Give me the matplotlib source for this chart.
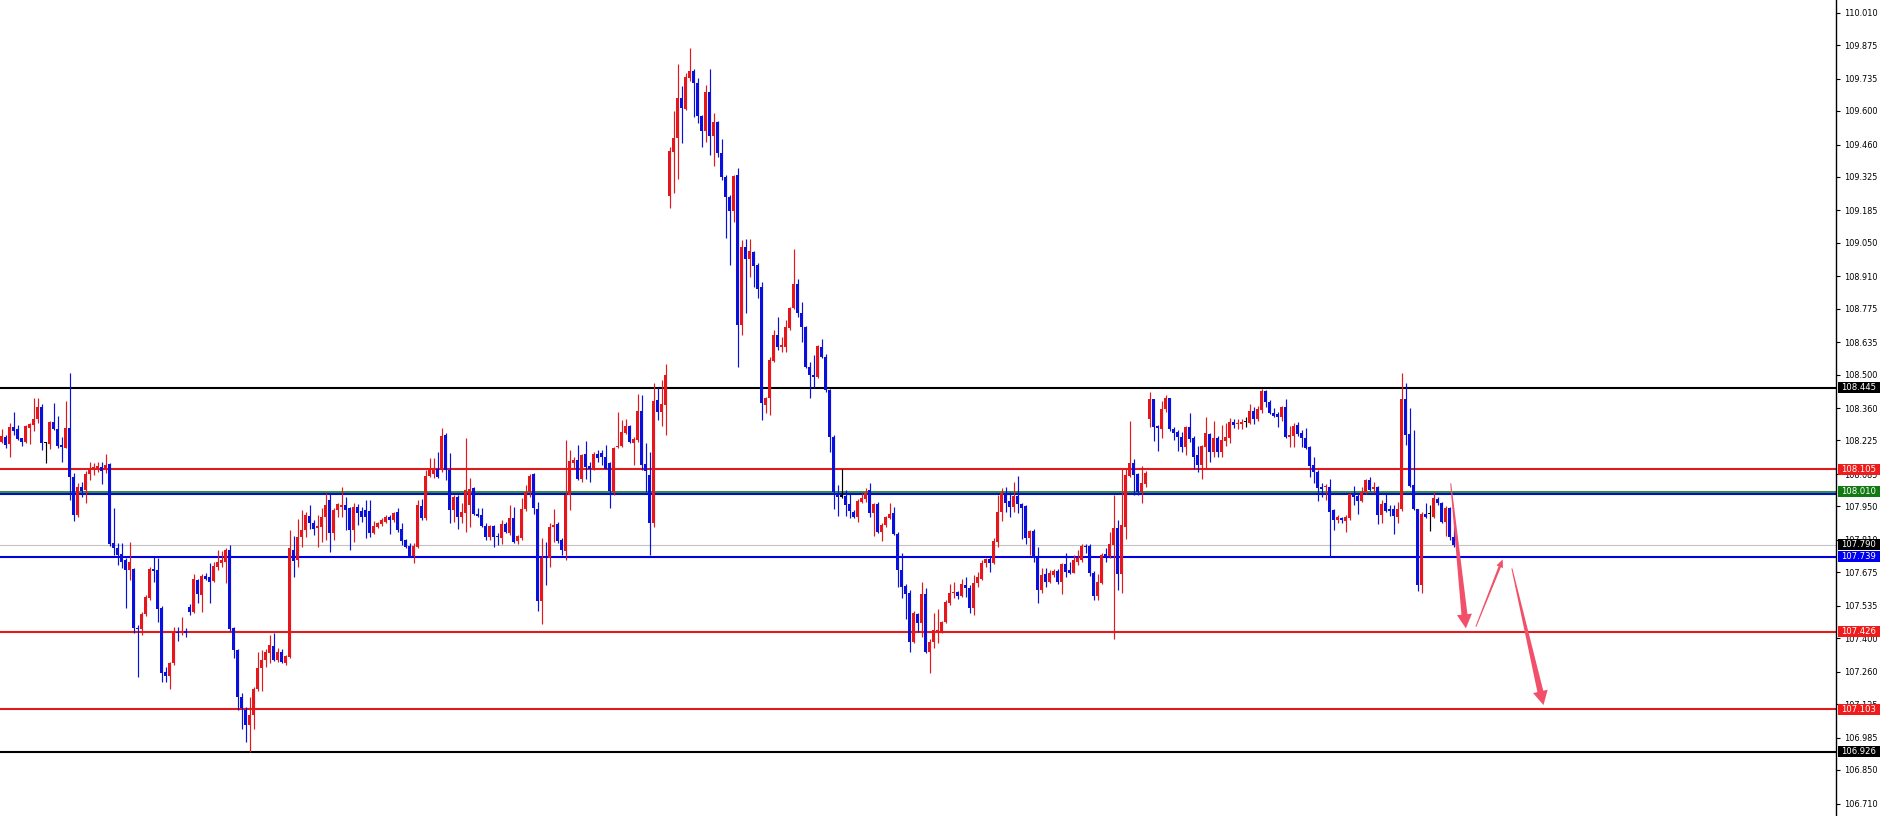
import numpy as np
import matplotlib
matplotlib.use("Agg")
import matplotlib.pyplot as plt
from matplotlib.patches import Polygon, Rectangle
from matplotlib.transforms import IdentityTransform

# candle data (one candle every 4 px)
opens = [
108.220, 108.241, 108.209, 108.283, 108.273, 108.234, 108.220, 108.276, 108.290, 108.315,
108.366, 108.216, 108.210, 108.302, 108.273, 108.206, 108.195, 108.276, 108.071, 107.914,
108.030, 108.018, 108.085, 108.102, 108.102, 108.116, 108.102, 108.126, 107.799, 107.775,
107.750, 107.726, 107.685, 107.687, 107.444, 107.437, 107.501, 107.566, 107.687, 107.685,
107.525, 107.259, 107.242, 107.295, 107.427, 107.420, 107.430, 107.531, 107.510, 107.643,
107.580, 107.661, 107.656, 107.640, 107.698, 107.712, 107.719, 107.770, 107.441, 107.350,
107.156, 107.100, 107.037, 107.079, 107.186, 107.274, 107.311, 107.339, 107.367, 107.309,
107.343, 107.298, 107.323, 107.770, 107.726, 107.821, 107.851, 107.911, 107.882, 107.858,
107.862, 107.904, 107.976, 107.838, 107.935, 107.949, 107.956, 107.942, 107.851, 107.946,
107.932, 107.935, 107.931, 107.838, 107.865, 107.875, 107.886, 107.904, 107.893, 107.928,
107.854, 107.810, 107.786, 107.743, 107.782, 107.952, 107.900, 108.077, 108.085, 108.105,
108.105, 108.248, 108.102, 107.935, 107.988, 107.907, 107.924, 107.956, 108.025, 107.918,
107.914, 107.868, 107.821, 107.868, 107.826, 107.820, 107.876, 107.840, 107.900, 107.806,
107.816, 107.937, 108.011, 108.085, 107.941, 107.556, 107.740, 107.733, 107.862, 107.876,
107.809, 107.765, 107.997, 108.132, 108.143, 108.066, 108.167, 108.118, 108.108, 108.168,
108.171, 108.157, 108.129, 108.011, 108.196, 108.201, 108.257, 108.285, 108.215, 108.226,
108.349, 108.126, 108.080, 107.881, 108.393, 108.345, 108.372, 109.246, 109.430, 109.486,
109.653, 109.607, 109.739, 109.768, 109.718, 109.579, 109.518, 109.680, 109.497, 109.555,
109.423, 109.326, 109.242, 109.184, 109.333, 108.707, 109.034, 108.981, 109.013, 108.957,
108.864, 108.373, 108.401, 108.558, 108.665, 108.616, 108.616, 108.693, 108.776, 108.876,
108.755, 108.700, 108.533, 108.498, 108.491, 108.616, 108.572, 108.435, 108.238, 108.001,
107.991, 107.993, 107.960, 107.928, 107.907, 107.969, 107.979, 108.018, 107.923, 107.960,
107.844, 107.872, 107.900, 107.923, 107.834, 107.684, 107.617, 107.587, 107.385, 107.501,
107.462, 107.584, 107.343, 107.385, 107.420, 107.427, 107.469, 107.548, 107.587, 107.594,
107.576, 107.622, 107.608, 107.524, 107.629, 107.649, 107.712, 107.729, 107.715, 107.802,
107.928, 108.004, 107.973, 107.948, 107.993, 107.960, 107.951, 107.816, 107.848, 107.733,
107.601, 107.667, 107.635, 107.663, 107.681, 107.635, 107.709, 107.684, 107.673, 107.719,
107.726, 107.786, 107.784, 107.673, 107.576, 107.631, 107.750, 107.743, 107.788, 107.858,
107.667, 107.865, 108.076, 108.132, 108.085, 108.011, 108.043, 108.313, 108.396, 108.285,
108.271, 108.355, 108.401, 108.271, 108.262, 108.241, 108.199, 108.280, 108.234, 108.164,
108.123, 108.199, 108.252, 108.178, 108.234, 108.178, 108.224, 108.234, 108.303, 108.292,
108.294, 108.300, 108.299, 108.349, 108.313, 108.352, 108.433, 108.387, 108.341, 108.335,
108.324, 108.363, 108.241, 108.244, 108.289, 108.257, 108.234, 108.199, 108.123, 108.095,
108.029, 108.029, 108.032, 107.934, 107.893, 107.900, 107.890, 107.900, 108.004, 107.993,
107.973, 108.011, 108.060, 108.021, 108.032, 107.913, 107.962, 107.941, 107.937, 107.907,
107.937, 108.396, 108.251, 108.039, 107.937, 107.621, 107.918, 107.917, 107.907, 107.979,
107.965, 107.886, 107.945, 107.823,
]

highs = [
108.272, 108.248, 108.299, 108.343, 108.290, 108.237, 108.290, 108.297, 108.401, 108.404,
108.376, 108.220, 108.308, 108.383, 108.327, 108.241, 108.391, 108.508, 108.088, 108.046,
108.053, 108.098, 108.134, 108.130, 108.137, 108.137, 108.167, 108.130, 107.945, 107.799,
107.799, 107.733, 107.800, 107.692, 107.455, 107.511, 107.580, 107.699, 107.740, 107.733,
107.534, 107.281, 107.302, 107.448, 107.448, 107.490, 107.441, 107.542, 107.668, 107.649,
107.668, 107.670, 107.715, 107.719, 107.768, 107.764, 107.775, 107.789, 107.448, 107.353,
107.170, 107.114, 107.156, 107.195, 107.343, 107.350, 107.353, 107.413, 107.423, 107.357,
107.353, 107.330, 107.851, 107.826, 107.896, 107.935, 107.928, 107.955, 107.893, 107.914,
107.942, 108.004, 108.004, 107.942, 107.963, 108.030, 107.991, 107.949, 107.963, 107.960,
107.949, 107.977, 107.977, 107.890, 107.886, 107.900, 107.914, 107.914, 107.928, 107.942,
107.879, 107.813, 107.799, 107.796, 107.977, 107.979, 108.102, 108.151, 108.151, 108.178,
108.276, 108.255, 108.171, 107.998, 107.998, 107.963, 108.234, 108.067, 108.032, 107.942,
107.942, 107.879, 107.872, 107.872, 107.840, 107.895, 107.886, 107.955, 107.948, 107.830,
107.983, 108.039, 108.085, 108.090, 107.969, 107.820, 107.802, 107.879, 107.941, 107.886,
107.816, 108.229, 108.185, 108.157, 108.206, 108.167, 108.224, 108.136, 108.178, 108.185,
108.187, 108.206, 108.136, 108.199, 108.345, 108.310, 108.313, 108.289, 108.240, 108.421,
108.414, 108.213, 108.178, 108.463, 108.449, 108.477, 108.544, 109.451, 109.600, 109.796,
109.704, 109.757, 109.861, 109.774, 109.736, 109.583, 109.708, 109.774, 109.593, 109.559,
109.481, 109.333, 109.249, 109.333, 109.360, 109.061, 109.064, 109.064, 109.017, 108.964,
108.888, 108.408, 108.575, 108.686, 108.739, 108.658, 108.728, 108.783, 109.022, 108.897,
108.804, 108.703, 108.554, 108.581, 108.623, 108.647, 108.586, 108.440, 108.247, 108.039,
108.104, 108.018, 108.001, 107.935, 107.979, 108.004, 108.025, 108.049, 107.965, 107.969,
107.882, 107.909, 107.962, 107.946, 107.844, 107.754, 107.626, 107.601, 107.514, 107.506,
107.635, 107.608, 107.395, 107.503, 107.520, 107.473, 107.559, 107.626, 107.635, 107.598,
107.645, 107.654, 107.622, 107.663, 107.677, 107.726, 107.733, 107.740, 107.816, 107.997,
108.025, 108.029, 108.011, 108.053, 108.076, 107.965, 107.955, 107.851, 107.854, 107.782,
107.691, 107.691, 107.684, 107.687, 107.687, 107.715, 107.754, 107.719, 107.747, 107.770,
107.795, 107.795, 107.795, 107.681, 107.667, 107.754, 107.775, 107.844, 107.997, 107.893,
108.104, 108.108, 108.307, 108.146, 108.090, 108.118, 108.099, 108.428, 108.400, 108.289,
108.391, 108.415, 108.401, 108.280, 108.269, 108.262, 108.285, 108.341, 108.244, 108.202,
108.206, 108.324, 108.255, 108.308, 108.244, 108.289, 108.296, 108.317, 108.313, 108.313,
108.313, 108.324, 108.377, 108.363, 108.369, 108.438, 108.436, 108.394, 108.359, 108.345,
108.369, 108.397, 108.285, 108.299, 108.303, 108.269, 108.276, 108.202, 108.155, 108.102,
108.046, 108.043, 108.066, 107.937, 107.913, 107.904, 107.913, 108.004, 108.035, 108.001,
108.032, 108.066, 108.071, 108.053, 108.035, 107.976, 108.001, 107.955, 107.955, 107.969,
108.507, 108.463, 108.359, 108.268, 107.941, 107.927, 107.962, 107.955, 108.011, 107.990,
107.969, 107.951, 107.948, 107.865,
]

lows = [
108.213, 108.192, 108.155, 108.248, 108.227, 108.203, 108.216, 108.210, 108.265, 108.297,
108.185, 108.133, 108.188, 108.269, 108.195, 108.137, 108.192, 107.977, 107.891, 107.904,
107.991, 107.966, 108.060, 108.081, 108.095, 108.044, 108.088, 107.785, 107.747, 107.706,
107.692, 107.525, 107.643, 107.420, 107.240, 107.413, 107.493, 107.559, 107.636, 107.469,
107.219, 107.219, 107.186, 107.288, 107.389, 107.413, 107.403, 107.496, 107.503, 107.545,
107.510, 107.643, 107.548, 107.636, 107.684, 107.698, 107.631, 107.431, 107.316, 107.100,
107.019, 106.968, 106.926, 107.019, 107.181, 107.181, 107.281, 107.295, 107.306, 107.302,
107.295, 107.288, 107.316, 107.654, 107.695, 107.782, 107.821, 107.854, 107.830, 107.782,
107.802, 107.809, 107.761, 107.810, 107.907, 107.907, 107.851, 107.768, 107.803, 107.872,
107.886, 107.817, 107.824, 107.835, 107.858, 107.868, 107.879, 107.835, 107.886, 107.844,
107.789, 107.775, 107.740, 107.715, 107.775, 107.893, 107.893, 108.074, 108.067, 108.067,
108.095, 108.060, 107.879, 107.886, 107.854, 107.879, 107.844, 107.865, 107.914, 107.907,
107.865, 107.810, 107.810, 107.782, 107.789, 107.795, 107.837, 107.830, 107.798, 107.795,
107.809, 107.932, 107.990, 107.920, 107.514, 107.461, 107.621, 107.698, 107.802, 107.798,
107.747, 107.728, 107.934, 108.108, 108.062, 108.053, 108.066, 108.053, 108.101, 108.136,
108.122, 108.104, 107.945, 107.997, 108.192, 108.199, 108.254, 108.215, 108.122, 108.219,
108.101, 108.011, 107.747, 107.862, 108.310, 108.285, 108.247, 109.194, 109.256, 109.315,
109.465, 109.604, 109.726, 109.576, 109.548, 109.448, 109.472, 109.416, 109.370, 109.406,
109.312, 109.068, 108.957, 109.138, 108.530, 108.665, 108.758, 108.908, 108.867, 108.818,
108.310, 108.338, 108.331, 108.554, 108.602, 108.595, 108.595, 108.686, 108.772, 108.741,
108.637, 108.526, 108.401, 108.442, 108.484, 108.568, 108.428, 108.178, 107.941, 107.909,
107.983, 107.909, 107.900, 107.900, 107.886, 107.962, 107.969, 107.904, 107.826, 107.840,
107.807, 107.865, 107.896, 107.830, 107.615, 107.566, 107.478, 107.343, 107.381, 107.427,
107.406, 107.339, 107.256, 107.357, 107.378, 107.420, 107.462, 107.538, 107.566, 107.562,
107.573, 107.573, 107.503, 107.496, 107.615, 107.642, 107.698, 107.677, 107.709, 107.781,
107.890, 107.928, 107.904, 107.928, 107.921, 107.812, 107.795, 107.747, 107.719, 107.545,
107.587, 107.612, 107.631, 107.656, 107.628, 107.584, 107.656, 107.667, 107.670, 107.705,
107.719, 107.754, 107.659, 107.559, 107.559, 107.626, 107.719, 107.733, 107.395, 107.601,
107.590, 107.812, 108.071, 107.997, 107.997, 107.962, 108.032, 108.282, 108.224, 108.182,
108.234, 108.345, 108.266, 108.227, 108.182, 108.178, 108.164, 108.220, 108.104, 108.095,
108.063, 108.104, 108.136, 108.157, 108.155, 108.157, 108.202, 108.216, 108.276, 108.271,
108.271, 108.280, 108.294, 108.294, 108.308, 108.338, 108.363, 108.335, 108.321, 108.283,
108.308, 108.234, 108.196, 108.199, 108.244, 108.196, 108.188, 108.071, 108.049, 107.974,
107.990, 107.976, 107.740, 107.851, 107.879, 107.881, 107.844, 107.893, 107.955, 107.920,
107.969, 108.001, 108.015, 108.004, 107.876, 107.879, 107.927, 107.909, 107.834, 107.881,
107.932, 108.206, 108.032, 107.934, 107.598, 107.589, 107.900, 107.848, 107.900, 107.955,
107.881, 107.826, 107.809, 107.781,
]

closes = [
108.244, 108.206, 108.283, 108.266, 108.231, 108.220, 108.286, 108.294, 108.313, 108.366,
108.213, 108.216, 108.304, 108.274, 108.202, 108.199, 108.276, 108.071, 107.914, 108.032,
108.016, 108.084, 108.109, 108.113, 108.119, 108.099, 108.123, 107.793, 107.775, 107.747,
107.719, 107.685, 107.719, 107.441, 107.437, 107.501, 107.571, 107.689, 107.682, 107.521,
107.256, 107.242, 107.298, 107.427, 107.420, 107.427, 107.420, 107.510, 107.649, 107.583,
107.661, 107.649, 107.636, 107.701, 107.719, 107.726, 107.770, 107.437, 107.350, 107.156,
107.107, 107.037, 107.079, 107.186, 107.274, 107.311, 107.343, 107.371, 107.309, 107.343,
107.302, 107.325, 107.775, 107.723, 107.821, 107.851, 107.914, 107.879, 107.854, 107.868,
107.904, 107.955, 107.837, 107.935, 107.959, 107.956, 107.935, 107.851, 107.949, 107.924,
107.907, 107.907, 107.838, 107.868, 107.882, 107.893, 107.904, 107.893, 107.921, 107.851,
107.807, 107.782, 107.743, 107.785, 107.956, 107.900, 108.077, 108.105, 108.105, 108.074,
108.244, 108.102, 107.935, 107.988, 107.907, 107.928, 108.018, 108.021, 107.918, 107.910,
107.868, 107.821, 107.868, 107.824, 107.821, 107.876, 107.844, 107.900, 107.802, 107.826,
107.937, 108.011, 108.076, 107.945, 107.556, 107.733, 107.733, 107.865, 107.872, 107.806,
107.767, 107.997, 108.139, 108.143, 108.066, 108.164, 108.115, 108.104, 108.168, 108.150,
108.154, 108.108, 108.015, 108.192, 108.201, 108.261, 108.285, 108.219, 108.233, 108.349,
108.122, 108.098, 107.879, 108.391, 108.345, 108.377, 108.498, 109.433, 109.488, 109.653,
109.611, 109.743, 109.767, 109.718, 109.579, 109.518, 109.680, 109.497, 109.555, 109.423,
109.323, 109.242, 109.184, 109.328, 108.707, 109.034, 108.981, 109.017, 108.953, 108.855,
108.380, 108.401, 108.561, 108.665, 108.616, 108.623, 108.697, 108.776, 108.876, 108.755,
108.700, 108.533, 108.498, 108.491, 108.619, 108.572, 108.435, 108.238, 108.011, 107.990,
107.991, 107.955, 107.932, 107.907, 107.973, 107.983, 108.004, 107.923, 107.960, 107.844,
107.872, 107.904, 107.918, 107.834, 107.684, 107.615, 107.584, 107.385, 107.503, 107.462,
107.584, 107.343, 107.385, 107.434, 107.434, 107.469, 107.552, 107.587, 107.594, 107.576,
107.626, 107.608, 107.524, 107.629, 107.656, 107.715, 107.729, 107.715, 107.807, 107.928,
108.004, 107.965, 107.946, 107.993, 107.960, 107.944, 107.816, 107.848, 107.733, 107.601,
107.663, 107.635, 107.673, 107.681, 107.635, 107.709, 107.677, 107.673, 107.726, 107.733,
107.784, 107.779, 107.673, 107.576, 107.635, 107.747, 107.737, 107.795, 107.858, 107.667,
107.872, 108.081, 108.132, 108.081, 108.011, 108.046, 108.090, 108.396, 108.282, 108.275,
108.355, 108.401, 108.271, 108.257, 108.238, 108.199, 108.280, 108.230, 108.157, 108.123,
108.202, 108.257, 108.178, 108.234, 108.178, 108.227, 108.241, 108.303, 108.289, 108.299,
108.303, 108.300, 108.349, 108.313, 108.355, 108.433, 108.387, 108.338, 108.327, 108.324,
108.363, 108.241, 108.248, 108.285, 108.252, 108.234, 108.192, 108.118, 108.095, 108.025,
108.023, 108.034, 107.927, 107.893, 107.904, 107.893, 107.904, 108.001, 107.990, 107.973,
108.011, 108.060, 108.018, 108.032, 107.913, 107.959, 107.932, 107.932, 107.909, 107.941,
108.396, 108.247, 108.034, 107.937, 107.621, 107.920, 107.907, 107.917, 107.983, 107.965,
107.886, 107.945, 107.823, 107.790,
]

# horizontal levels and their price tags
levels = [108.445, 108.105, 108.010, 107.790, 107.739, 107.426, 107.103, 106.926]
level_colors = ["#000000", "#e01b1b", "#137a13", "#c4c4c4", "#0000e0", "#e01b1b", "#e01b1b", "#000000"]
tag_colors = ["#000000", "#f01c1c", "#137a13", "#000000", "#0000f0", "#f01c1c", "#f01c1c", "#000000"]

ticks = [110.010, 109.875, 109.735, 109.600, 109.460, 109.325, 109.185, 109.050, 108.910,
         108.775, 108.635, 108.500, 108.360, 108.225, 108.085, 107.950, 107.810, 107.675,
         107.535, 107.400, 107.260, 107.125, 106.985, 106.850, 106.710]

# drawn forecast arrows: start index, start price, end index, end price, widths
arrows = [(362.3, 108.046, 366.1, 107.441, 1.0, 6.0, 15, 14),
          (368.6, 107.448, 375.3, 107.729, 1.0, 2.5, 7, 8),
          (377.6, 107.691, 385.5, 107.121, 1.0, 6.0, 15, 14)]

assert len(opens) == len(highs) == len(lows) == len(closes)

W, H = 1880, 816
fig = plt.figure(figsize=(W / 100, H / 100), dpi=100)
ax = fig.add_axes([0, 0, 1836 / W, 1])
ax.set_xlim(-0.375, 458.625)
ax.set_ylim(106.658, 110.063)

o = np.array(opens)
h = np.array(highs)
l = np.array(lows)
c = np.array(closes)
x = np.arange(len(c))
red, blue = "#e5161c", "#0a10dc"
col = np.where(c > o, red, np.where(c < o, blue, "#000000"))

ax.vlines(x, l, h, colors=col, lw=0.85, zorder=3)
body_lo = np.minimum(o, c)
body_h = np.maximum(np.abs(c - o), 0.0045)
ax.bar(x, body_h, bottom=body_lo, width=0.8, color=col, linewidth=0, zorder=4)

for lv, lc in zip(levels, level_colors):
    if lv == 108.010:
        ax.axhline(108.011, color=lc, lw=1.2, zorder=2)
        ax.axhline(108.003, color="#0010c8", lw=1.5, zorder=2)
    elif lv == 107.790:
        ax.axhline(lv, color=lc, lw=0.8, zorder=1)
    else:
        ax.axhline(lv, color=lc, lw=1.5, zorder=2)

for s in ["top", "left", "bottom"]:
    ax.spines[s].set_visible(False)
ax.spines["right"].set_linewidth(1.0)
ax.set_xticks([])
ax.yaxis.tick_right()
ax.set_yticks(ticks)
ax.set_yticklabels(["%.3f" % t for t in ticks])
ax.tick_params(axis="y", direction="out", length=3, width=0.8, pad=2.5,
               labelsize=5.9, colors="#000000")

# price tags on the axis
ident = IdentityTransform()
for lv, tc in zip(levels, tag_colors):
    yd = ax.transData.transform((0, lv))[1]
    fig.add_artist(Rectangle((1837.5, yd - 5.5), 42, 11, transform=ident,
                             facecolor=tc, edgecolor="none", zorder=20))
    fig.add_artist(plt.Text(1841, yd, "%.3f" % lv, transform=ident, color="white",
                            fontsize=6.1, va="center", ha="left", zorder=21))


def draw_arrow(x0, y0, x1, y1, w0, w1, hw, hl, color="#f2506a"):
    p0 = ax.transData.transform((x0, y0))
    p1 = ax.transData.transform((x1, y1))
    d = p1 - p0
    u = d / np.hypot(*d)
    n = np.array([-u[1], u[0]])
    b = p1 - u * hl
    pts = [p0 + n * w0 / 2, b + n * w1 / 2, b + n * hw / 2, p1,
           b - n * hw / 2, b - n * w1 / 2, p0 - n * w0 / 2]
    fig.add_artist(Polygon(pts, closed=True, transform=ident, facecolor=color,
                           edgecolor="none", zorder=15))


for a in arrows:
    draw_arrow(*a)

fig.savefig("out.png", dpi=100)
